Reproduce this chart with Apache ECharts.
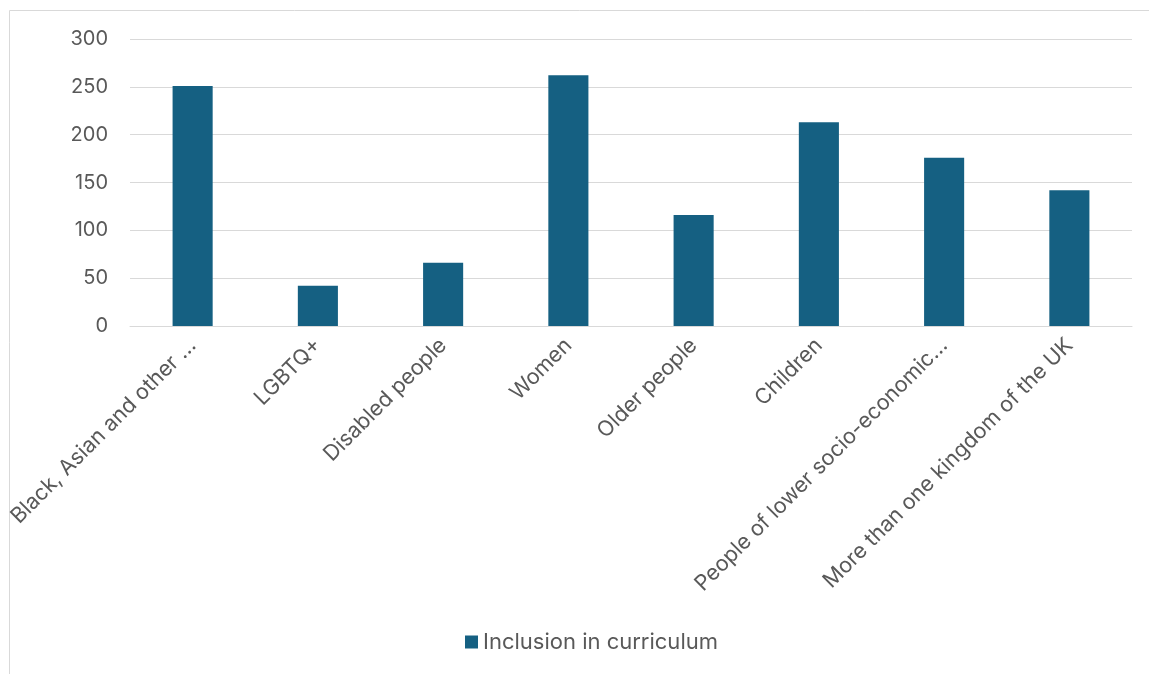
<!DOCTYPE html>
<html>
<head>
<meta charset="utf-8">
<script src="https://cdn.jsdelivr.net/npm/echarts@6/dist/echarts.min.js"></script>
<style>
  html, body { margin: 0; padding: 0; background: #fff; }
  #chart { width: 1149px; height: 674px; }
</style>
</head>
<body>
<div id="chart"></div>
<script>
// categories as shown on the axis (already truncated in the source)
const categories = [
  'Black, Asian and other …',
  'LGBTQ+',
  'Disabled people',
  'Women',
  'Older people',
  'Children',
  'People of lower socio-economic…',
  'More than one kingdom of the UK'
];
const inclusion = [251, 42, 66, 262, 116, 213, 176, 142];
const seriesName = 'Inclusion in curriculum';

const textColor = '#595959';
const gridColor = '#d9d9d9';
const barColor = '#156082';
const font = 'Inter, "Noto Sans", sans-serif';

const chart = echarts.init(document.getElementById('chart'));

chart.setOption({
  animation: false,
  textStyle: { fontFamily: font },
  graphic: [{
    type: 'rect',
    shape: { x: 9.5, y: 10.5, width: 1200, height: 700 },
    style: { fill: 'none', stroke: gridColor, lineWidth: 1 },
    silent: true
  }],
  legend: {
    bottom: 16,
    left: 460,
    itemWidth: 13,
    itemHeight: 13,
    itemGap: 5,
    icon: 'rect',
    textStyle: { color: textColor, fontSize: 22, fontFamily: font }
  },
  grid: { left: 130, right: 17, top: 39, bottom: 348 },
  xAxis: {
    type: 'category',
    data: categories,
    axisLine: { lineStyle: { color: gridColor, width: 1 } },
    axisTick: { show: false },
    axisLabel: {
      rotate: 45,
      interval: 0,
      margin: 16,
      color: textColor,
      fontSize: 21.5,
      fontFamily: font
    }
  },
  yAxis: {
    type: 'value',
    min: 0,
    max: 300,
    interval: 50,
    axisLine: { show: false },
    axisTick: { show: false },
    splitLine: { lineStyle: { color: gridColor, width: 1 } },
    axisLabel: { color: textColor, fontSize: 20, margin: 22, fontFamily: font }
  },
  series: [{
    name: seriesName,
    type: 'bar',
    data: inclusion,
    barWidth: '32%',
    itemStyle: { color: barColor }
  }]
});
</script>
</body>
</html>
